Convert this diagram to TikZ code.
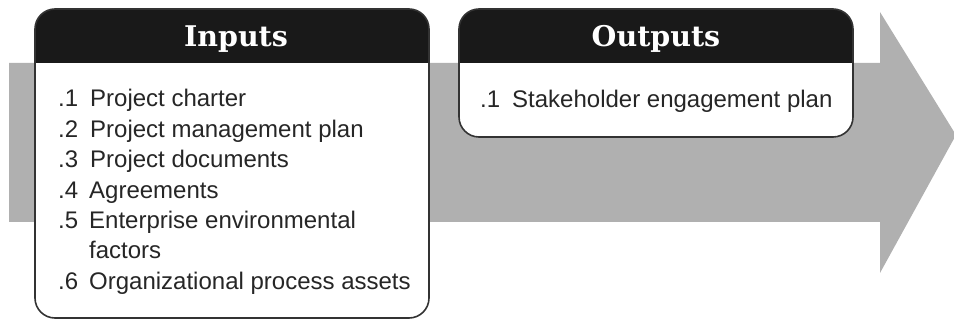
\documentclass[tikz,border=0pt]{standalone}
\usepackage{fontspec}
\setmainfont{Liberation Sans}
\newfontfamily\headfont{DejaVu Serif}
\begin{document}
\begin{tikzpicture}[x=1pt,y=-1pt,
  boxborder/.style={draw=black!80,line width=1.6pt,rounded corners=20pt},
  headtext/.style={text=white,font=\headfont\bfseries\fontsize{28.5}{32}\selectfont,inner sep=0pt},
  itemtext/.style={text=black!85,font=\fontsize{24}{30.4}\selectfont,inner sep=0pt,anchor=base west},
  numtext/.style={text=black!85,font=\fontsize{24}{30.4}\selectfont,inner sep=0pt,anchor=base west}]
\useasboundingbox (0,0) rectangle (954,320);
% arrow
\fill[black!31] (9,63) -- (880,63) -- (880,12) -- (956,135) -- (880,273) -- (880,222) -- (9,222) -- cycle;
% inputs box
\fill[white,rounded corners=20pt] (35,9) rectangle (429,318);
\begin{scope}
  \clip[rounded corners=20pt] (35,9) rectangle (429,318);
  \fill[black!90] (35,9) rectangle (429,63);
\end{scope}
\draw[boxborder] (35,9) rectangle (429,318);
% outputs box
\fill[white,rounded corners=20pt] (459,9) rectangle (853,137);
\begin{scope}
  \clip[rounded corners=20pt] (459,9) rectangle (853,137);
  \fill[black!90] (459,9) rectangle (853,63);
\end{scope}
\draw[boxborder] (459,9) rectangle (853,137);
% headers
\node[headtext] (inh) at (236,39) {Inputs};
\node[headtext] (outh) at (656,39) {Outputs};
% input items
\node[numtext] (n1) at (58,107) {.1};
\node[itemtext] (i1) at (90,107) {Project charter};
\node[numtext] (n2) at (58,137.4) {.2};
\node[itemtext] (i2) at (90,137.4) {Project management plan};
\node[numtext] (n3) at (58,167.8) {.3};
\node[itemtext] (i3) at (90,167.8) {Project documents};
\node[numtext] (n4) at (58,198.2) {.4};
\node[itemtext] (i4) at (89,198.2) {Agreements};
\node[numtext] (n5) at (58,228.6) {.5};
\node[itemtext] (i5) at (89,228.6) {Enterprise environmental};
\node[itemtext] (i5b) at (89,259) {factors};
\node[numtext] (n6) at (58,289.4) {.6};
\node[itemtext] (i6) at (89,289.4) {Organizational process assets};
% output items
\node[numtext] (o1n) at (480,108) {.1};
\node[itemtext] (o1) at (512,108) {Stakeholder engagement plan};
\end{tikzpicture}
\end{document}
